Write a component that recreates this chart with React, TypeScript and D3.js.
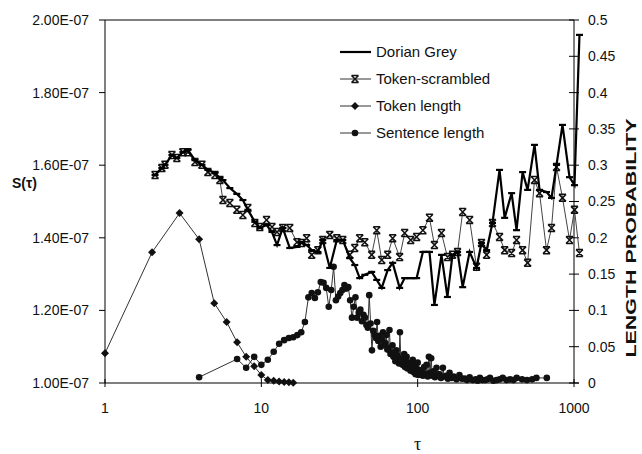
import * as d3 from 'd3';

// S(τ) series, values in units of 1E-07
const tauS = [
  2.09, 2.31, 2.42, 2.68, 2.88, 3.15, 3.39, 3.76, 4.17, 4.55, 5.05, 5.43, 5.68, 6.29, 6.97,
  7.62, 8.2, 9.09, 9.78, 10.8, 11.7, 12.6, 13.7, 15.2, 16.9, 18.1, 19.5, 21.0, 23.0, 24.7,
  27.4, 30.4, 33.2, 36.8, 39.6, 42.6, 45.9, 50.8, 54.7, 58.9, 64.3, 69.2, 76.7, 82.6, 90.2,
  98.5, 108, 119, 128, 142, 155, 167, 180, 194, 215, 238, 256, 276, 301, 334,
  360, 399, 429, 469, 505, 559, 602, 667, 718, 773, 844, 936, 1007, 1084,
];
const dorianGrey = [
  1.573, 1.592, 1.601, 1.628, 1.62, 1.636, 1.642, 1.614, 1.601, 1.587, 1.579, 1.565, 1.559, 1.537, 1.521,
  1.504, 1.477, 1.444, 1.427, 1.435, 1.416, 1.38, 1.427, 1.372, 1.375, 1.388, 1.38, 1.366, 1.361, 1.394,
  1.317, 1.394, 1.394, 1.344, 1.325, 1.289, 1.298, 1.306, 1.284, 1.262, 1.311, 1.331, 1.262, 1.289, 1.289,
  1.289, 1.361, 1.361, 1.215, 1.353, 1.237, 1.353, 1.361, 1.264, 1.361, 1.317, 1.386, 1.366, 1.441, 1.587,
  1.455, 1.523, 1.421, 1.581, 1.532, 1.656, 1.532, 1.526, 1.51, 1.601, 1.711, 1.567, 1.545, 1.959,
];
const tokenScrambled = [
  1.573, 1.592, 1.601, 1.628, 1.62, 1.636, 1.636, 1.609, 1.601, 1.581, 1.573, 1.559, 1.504, 1.496, 1.477,
  1.463, 1.482, 1.441, 1.43, 1.449, 1.43, 1.416, 1.427, 1.427, 1.388, 1.386, 1.399, 1.353, 1.366, 1.394,
  1.408, 1.399, 1.394, 1.353, 1.372, 1.399, 1.388, 1.353, 1.421, 1.339, 1.353, 1.399, 1.347, 1.413, 1.394,
  1.402, 1.421, 1.455, 1.38, 1.413, 1.347, 1.353, 1.361, 1.471, 1.449, 1.32, 1.386, 1.353, 1.441, 1.402,
  1.366, 1.358, 1.394, 1.366, 1.331, 1.559, 1.523, 1.366, 1.427, 1.595, 1.51, 1.394, 1.477, 1.358,
];

// length probability series (right axis)
const tokenTau = [1, 2, 3, 4, 5, 6, 7, 8, 9, 10, 11, 12, 13, 14, 15, 16];
const tokenLength = [
  0.041, 0.18, 0.234, 0.198, 0.11, 0.084, 0.056, 0.036, 0.023, 0.011, 0.004, 0.003, 0.002, 0.0015, 0.001, 0.0005,
];
const sentenceTau = [
  4, 7, 8, 9, 10, 11, 12, 13, 14, 15,
  16, 17, 18, 19, 20, 21, 22, 23, 24, 25,
  26, 27, 28, 29, 30, 31, 32, 33, 34, 35,
  36, 37, 38, 39, 40, 41, 42, 43, 44, 45,
  46, 47, 48, 49, 50, 51, 52, 53, 54, 55,
  56, 57, 58, 59, 60, 61, 62, 63, 64, 65,
  66, 67, 68, 69, 70, 71, 72, 73, 74, 75,
  76, 77, 78, 79, 80, 81, 82, 83, 84, 85,
  86, 87, 88, 89, 90, 91, 92, 93, 94, 95,
  96, 97, 98, 100, 101, 103, 104, 106, 108, 110,
  112, 114, 116, 118, 120, 122, 124, 126, 129, 132,
  135, 138, 141, 145, 148, 152, 156, 160, 165, 170,
  177, 185, 192, 200, 207, 215, 225, 235, 242, 250,
  260, 270, 280, 290, 305, 320, 335, 350, 370, 390,
  410, 430, 465, 500, 540, 575, 670,
];
const sentenceLength = [
  0.008, 0.033, 0.021, 0.036, 0.025, 0.032, 0.043, 0.054, 0.059, 0.062,
  0.063, 0.066, 0.07, 0.084, 0.118, 0.124, 0.117, 0.125, 0.139, 0.138,
  0.131, 0.105, 0.128, 0.16, 0.114, 0.119, 0.124, 0.128, 0.135, 0.13,
  0.132, 0.114, 0.09, 0.105, 0.118, 0.09, 0.097, 0.101, 0.085, 0.094,
  0.09, 0.08, 0.076, 0.121, 0.082, 0.045, 0.072, 0.066, 0.062, 0.084,
  0.058, 0.065, 0.05, 0.06, 0.07, 0.052, 0.055, 0.066, 0.046, 0.048,
  0.073, 0.04, 0.042, 0.052, 0.036, 0.04, 0.03, 0.045, 0.038, 0.035,
  0.027, 0.07, 0.033, 0.03, 0.025, 0.031, 0.04, 0.022, 0.03, 0.036,
  0.02, 0.028, 0.024, 0.025, 0.017, 0.02, 0.026, 0.032, 0.015, 0.018,
  0.022, 0.012, 0.021, 0.028, 0.011, 0.018, 0.014, 0.015, 0.01, 0.022,
  0.013, 0.025, 0.009, 0.036, 0.014, 0.034, 0.01, 0.016, 0.008, 0.021,
  0.012, 0.012, 0.007, 0.021, 0.009, 0.01, 0.006, 0.014, 0.007, 0.009,
  0.005, 0.011, 0.006, 0.006, 0.004, 0.008, 0.004, 0.005, 0.003, 0.007,
  0.004, 0.004, 0.005, 0.007, 0.003, 0.004, 0.005, 0.007, 0.004, 0.005,
  0.004, 0.007, 0.005, 0.004, 0.005, 0.007, 0.007,
];

const xTicks = [1, 10, 100, 1000];
const leftTicks = [1.0, 1.2, 1.4, 1.6, 1.8, 2.0];
const rightTicks = [0, 0.05, 0.1, 0.15, 0.2, 0.25, 0.3, 0.35, 0.4, 0.45, 0.5];
const legendLabels = ['Dorian Grey', 'Token-scrambled', 'Token length', 'Sentence length'];

const W = 642;
const H = 454;
const left = 105;
const right = 574;
const top = 20;
const bottom = 383;
const font = '"Liberation Sans", Arial, sans-serif';

const x = d3.scaleLog().domain([1, 1000]).range([left, right]);
const yS = d3.scaleLinear().domain([1, 2]).range([bottom, top]);
const yP = d3.scaleLinear().domain([0, 0.5]).range([bottom, top]);

type Pt = [number, number];

function Star({ cx, cy }: { cx: number; cy: number }) {
  const r = 3.5;
  return (
    <path
      d={`M${cx - r},${cy - r}L${cx + r},${cy + r}M${cx + r},${cy - r}L${cx - r},${cy + r}M${cx - r},${cy - r}H${cx + r}M${cx - r},${cy + r}H${cx + r}`}
      stroke="#111"
      strokeWidth={1.5}
      fill="none"
    />
  );
}

function Dash({ cx, cy }: { cx: number; cy: number }) {
  return <line x1={cx - 3.5} x2={cx + 3.5} y1={cy} y2={cy} stroke="#000" strokeWidth={2.2} />;
}

function Diamond({ cx, cy }: { cx: number; cy: number }) {
  const r = 4;
  return <path d={`M${cx},${cy - r}L${cx + r},${cy}L${cx},${cy + r}L${cx - r},${cy}Z`} fill="#111" />;
}

function Dot({ cx, cy }: { cx: number; cy: number }) {
  return <circle cx={cx} cy={cy} r={3.3} fill="#111" />;
}

export default function App() {
  const lineS = d3.line<Pt>().x((d) => x(d[0])).y((d) => yS(d[1]));
  const lineP = d3.line<Pt>().x((d) => x(d[0])).y((d) => yP(d[1]));

  const dorianPts: Pt[] = tauS.map((t, i) => [t, dorianGrey[i]]);
  const scrPts: Pt[] = tauS.map((t, i) => [t, tokenScrambled[i]]);
  const tokPts: Pt[] = tokenTau.map((t, i) => [t, tokenLength[i]]);
  const senPts: Pt[] = sentenceTau.map((t, i) => [t, sentenceLength[i]]);

  const legY = [52, 79, 106, 133];

  return (
    <svg width={W} height={H} style={{ position: 'absolute', left: 0, top: 0, background: '#fff' }} fontFamily={font}>
      {/* frame */}
      <line x1={left} x2={right} y1={top} y2={top} stroke="#000" strokeWidth={1} />
      <line x1={left} x2={left} y1={top} y2={bottom} stroke="#000" strokeWidth={1} />
      <line x1={right} x2={right} y1={top} y2={bottom} stroke="#000" strokeWidth={1} />
      <line x1={left} x2={right + 5} y1={bottom} y2={bottom} stroke="#000" strokeWidth={1.2} />

      {/* left axis */}
      {leftTicks.map((v) => (
        <g key={'l' + v}>
          <line x1={left - 6} x2={left} y1={yS(v)} y2={yS(v)} stroke="#000" />
          <text x={left - 16} y={yS(v)} dy="0.35em" textAnchor="end" fontSize={14} fill="#111">
            {v.toFixed(2) + 'E-07'}
          </text>
        </g>
      ))}
      {/* right axis */}
      {rightTicks.map((v) => (
        <g key={'r' + v}>
          <line x1={right - 5} x2={right + 5} y1={yP(v)} y2={yP(v)} stroke="#000" />
          <text x={right + 14} y={yP(v)} dy="0.35em" fontSize={14} fill="#111">
            {String(v)}
          </text>
        </g>
      ))}
      {/* bottom axis */}
      {xTicks.map((v) => (
        <g key={'x' + v}>
          <line x1={x(v)} x2={x(v)} y1={bottom - 4} y2={bottom + 4} stroke="#000" />
          <text x={x(v)} y={bottom + 30} textAnchor="middle" fontSize={14} fill="#111">
            {String(v)}
          </text>
        </g>
      ))}

      {/* axis titles */}
      <text x={12} y={188} fontSize={14} fontWeight="bold" fill="#111">
        S(τ)
      </text>
      <text x={x(100)} y={450} textAnchor="middle" fontSize={18} fill="#111" fontFamily='"Liberation Serif", serif'>
        τ
      </text>
      <text
        transform={`translate(636,238) rotate(-90)`}
        textAnchor="middle"
        fontSize={15}
        fontWeight="bold"
        fill="#111"
        textLength={239}
        lengthAdjust="spacingAndGlyphs"
      >
        LENGTH PROBABILITY
      </text>

      {/* series */}
      <path d={lineP(tokPts) ?? ''} fill="none" stroke="#333" strokeWidth={1} />
      {tokPts.map((d, i) => (
        <Diamond key={'t' + i} cx={x(d[0])} cy={yP(d[1])} />
      ))}
      <path d={lineP(senPts) ?? ''} fill="none" stroke="#333" strokeWidth={1} />
      {senPts.map((d, i) => (
        <Dot key={'s' + i} cx={x(d[0])} cy={yP(d[1])} />
      ))}
      <path d={lineS(scrPts) ?? ''} fill="none" stroke="#444" strokeWidth={1} />
      {scrPts.map((d, i) => (
        <Star key={'c' + i} cx={x(d[0])} cy={yS(d[1])} />
      ))}
      <path d={lineS(dorianPts) ?? ''} fill="none" stroke="#000" strokeWidth={2.2} />
      {dorianPts.map((d, i) => (
        <Dash key={'d' + i} cx={x(d[0])} cy={yS(d[1])} />
      ))}

      {/* legend */}
      {legendLabels.map((lab, i) => (
        <g key={lab}>
          <line
            x1={340}
            x2={371}
            y1={legY[i]}
            y2={legY[i]}
            stroke={i === 0 ? '#000' : '#333'}
            strokeWidth={i === 0 ? 2.2 : 1}
          />
          {i === 1 && <Star cx={355} cy={legY[i]} />}
          {i === 2 && <Diamond cx={355} cy={legY[i]} />}
          {i === 3 && <Dot cx={355} cy={legY[i]} />}
          <text x={376} y={legY[i]} dy="0.35em" fontSize={15} fill="#111">
            {lab}
          </text>
        </g>
      ))}
    </svg>
  );
}
